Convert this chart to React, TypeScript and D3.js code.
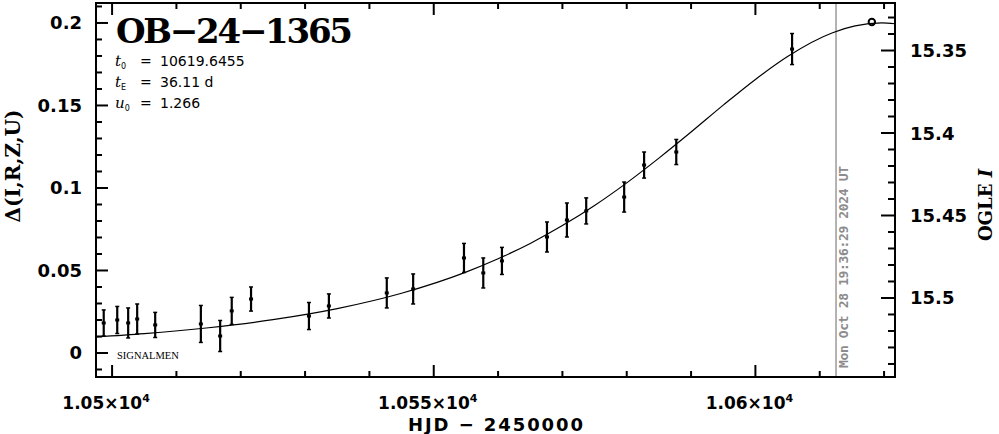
import React from "react";
import * as d3 from "d3";

// Observed data (HJD - 2450000, delta mag, error)
const obsTime = [10498.7, 10500.8, 10502.5, 10503.9, 10506.7, 10513.8, 10516.8, 10518.6, 10521.6, 10530.6, 10533.7, 10542.7, 10546.8, 10554.7, 10557.7, 10560.6, 10567.6, 10570.7, 10573.7, 10579.6, 10582.7, 10587.7, 10605.7];
const obsDelta = [0.0182, 0.020, 0.0182, 0.0206, 0.017, 0.0176, 0.0103, 0.0255, 0.0327, 0.0224, 0.0285, 0.0364, 0.0388, 0.0576, 0.0485, 0.0558, 0.0703, 0.0806, 0.0861, 0.0945, 0.1139, 0.1218, 0.1842];
const obsErr = [0.0079, 0.0082, 0.0091, 0.0091, 0.0076, 0.0112, 0.0094, 0.0082, 0.0073, 0.0082, 0.0073, 0.0091, 0.0091, 0.0088, 0.0091, 0.0082, 0.0091, 0.0103, 0.0079, 0.0091, 0.0079, 0.0076, 0.0094];

// Latest point (open circle)
const lastTime = [10618.1];
const lastDelta = [0.2006];

// Model curve
const modelTime = [10497.5, 10505, 10515, 10525, 10535, 10545, 10555, 10560, 10565, 10570, 10575, 10580, 10585, 10590, 10595, 10600, 10605, 10612, 10615.5, 10619.65, 10622];
const modelDelta = [0.0097, 0.0117, 0.0153, 0.0202, 0.0269, 0.0362, 0.049, 0.0571, 0.0664, 0.0772, 0.0894, 0.1031, 0.1181, 0.1339, 0.1502, 0.1658, 0.1797, 0.1941, 0.1982, 0.2, 0.1994];

const xMajorTicks = [10500, 10550, 10600];
const xLabelMantissa = ["1.05", "1.055", "1.06"];
const yMajorTicks = [0, 0.05, 0.1, 0.15, 0.2];
const yTickLabels = ["0", "0.05", "0.1", "0.15", "0.2"];
const magMajorTicks = [15.35, 15.4, 15.45, 15.5];
const magTickLabels = ["15.35", "15.4", "15.45", "15.5"];

const title = "OB\u221224\u22121365";
const paramSymbols = ["t", "t", "u"];
const paramSubs = ["0", "E", "0"];
const paramValues = ["10619.6455", "36.11 d", "1.266"];
const dateLabel = "Mon Oct 28 19:36:29 2024 UT";
const dateTime = 10612.3;

const W = 999, H = 434;
const L = 96, R = 895, T = 3, B = 377;

export default function App() {
  const x = d3.scaleLinear().domain([10497.5, 10621.7]).range([L, R]);
  const y = d3.scaleLinear().domain([-0.01455, 0.2121]).range([B, T]);
  const ym = d3.scaleLinear().domain([15.5479, 15.3212]).range([B, T]);

  const xMinor = d3.range(10500, 10621, 10);
  const yMinor = d3.range(-1, 22).map((i) => i / 100);
  const mMinor = d3.range(1533, 1555).map((i) => i / 100);

  const line = d3
    .line<number>()
    .x((_, i) => x(modelTime[i]))
    .y((d) => y(d))
    .curve(d3.curveMonotoneX);

  const isMajor = (v: number, arr: number[]) => arr.some((a) => Math.abs(a - v) < 1e-6);

  const sans = "DejaVu Sans, sans-serif";
  const serif = "DejaVu Serif, serif";

  return (
    <svg width={W} height={H} style={{ position: "absolute", left: 0, top: 0, background: "#fff" }}>
      <rect x={0} y={0} width={W} height={H} fill="#fff" />
      <defs>
        <clipPath id="plotclip">
          <rect x={L} y={T} width={R - L} height={B - T} />
        </clipPath>
      </defs>

      {/* date vertical line */}
      <line x1={x(dateTime) + 1.5} x2={x(dateTime) + 1.5} y1={T} y2={B} stroke="#9a9a9a" strokeWidth={1.5} />
      <text
        transform={`translate(${x(dateTime) + 13},368) rotate(-90)`}
        fontFamily="DejaVu Sans Mono, monospace"
        fontWeight="bold"
        fontSize={13}
        fill="#8c8c8c"
        textLength={202}
      >
        {dateLabel}
      </text>

      {/* model curve */}
      <path d={line(modelDelta) || ""} fill="none" stroke="#000" strokeWidth={1.2} clipPath="url(#plotclip)" />

      {/* error bars */}
      {obsTime.map((t, i) => {
        const cx = x(t);
        const y1 = y(obsDelta[i] - obsErr[i]);
        const y2 = y(obsDelta[i] + obsErr[i]);
        const cy = y(obsDelta[i]);
        return (
          <g key={i}>
            <line x1={cx} x2={cx} y1={y1} y2={y2} stroke="#000" strokeWidth={2.2} />
            <line x1={cx - 2} x2={cx + 2} y1={y1} y2={y1} stroke="#000" strokeWidth={1.5} />
            <line x1={cx - 2} x2={cx + 2} y1={y2} y2={y2} stroke="#000" strokeWidth={1.5} />
            <rect x={cx - 2} y={cy - 1.5} width={4} height={3} fill="#000" />
          </g>
        );
      })}
      {lastTime.map((t, i) => (
        <circle key={i} cx={x(t)} cy={y(lastDelta[i])} r={3.2} fill="none" stroke="#000" strokeWidth={2} />
      ))}

      {/* frame */}
      <rect x={L} y={T} width={R - L} height={B - T} fill="none" stroke="#000" strokeWidth={2} />

      {/* x ticks (top and bottom) */}
      {xMinor.map((v) => {
        const len = isMajor(v, xMajorTicks) ? 12 : 6;
        return (
          <g key={v}>
            <line x1={x(v)} x2={x(v)} y1={B} y2={B - len} stroke="#000" strokeWidth={2} />
            <line x1={x(v)} x2={x(v)} y1={T} y2={T + len} stroke="#000" strokeWidth={2} />
          </g>
        );
      })}
      {/* left ticks */}
      {yMinor.map((v) => {
        const len = isMajor(v, yMajorTicks) ? 12 : 6;
        return <line key={v} x1={L} x2={L + len} y1={y(v)} y2={y(v)} stroke="#000" strokeWidth={2} />;
      })}
      {/* right ticks */}
      {mMinor.map((v) => {
        const len = isMajor(v, magMajorTicks) ? 14 : 7;
        return <line key={v} x1={R} x2={R - len} y1={ym(v)} y2={ym(v)} stroke="#000" strokeWidth={2} />;
      })}

      {/* left tick labels */}
      {yMajorTicks.map((v, i) => (
        <text key={v} x={82} y={y(v) + 6.5} textAnchor="end" fontFamily={sans} fontWeight="bold" fontSize={18}>
          {yTickLabels[i]}
        </text>
      ))}
      {/* right tick labels */}
      {magMajorTicks.map((v, i) => (
        <text key={v} x={910} y={ym(v) + 6.5} textAnchor="start" fontFamily={sans} fontWeight="bold" fontSize={18}>
          {magTickLabels[i]}
        </text>
      ))}
      {/* bottom tick labels */}
      {xMajorTicks.map((v, i) => (
        <text key={v} x={x(v) - 6} y={409} textAnchor="middle" fontFamily={sans} fontWeight="bold" fontSize={17}>
          {xLabelMantissa[i]}×10
          <tspan dy={-7} fontSize={11}>4</tspan>
        </text>
      ))}

      {/* axis titles */}
      <text x={(L + R) / 2} y={431} textAnchor="middle" fontFamily={sans} fontWeight="bold" fontSize={18} textLength={175}>
        HJD − 2450000
      </text>
      <text transform="translate(20,166) rotate(-90)" textAnchor="middle" fontFamily={serif} fontWeight="bold" fontSize={20}>
        Δ(I,R,Z,U)
      </text>
      <text transform="translate(992,205) rotate(-90)" textAnchor="middle" fontFamily={serif} fontWeight="bold" fontSize={18}>
        OGLE <tspan fontStyle="italic">I</tspan>
      </text>

      {/* title and parameters */}
      <text x={116} y={43} fontFamily={serif} fontWeight="bold" fontSize={34} textLength={237}>
        {title}
      </text>
      {paramValues.map((val, i) => (
        <g key={i} fontSize={14} fontFamily={sans}>
          <text x={115} y={66 + i * 21}>
            <tspan fontFamily={serif} fontStyle="italic" fontSize={15}>{paramSymbols[i]}</tspan>
            <tspan fontSize={8} dy={3}>{paramSubs[i]}</tspan>
          </text>
          <text x={140} y={66 + i * 21}>=</text>
          <text x={160} y={66 + i * 21}>{val}</text>
        </g>
      ))}
      <text x={117} y={359} fontFamily="Liberation Serif, serif" fontSize={10.5}>
        SIGNALMEN
      </text>
    </svg>
  );
}
